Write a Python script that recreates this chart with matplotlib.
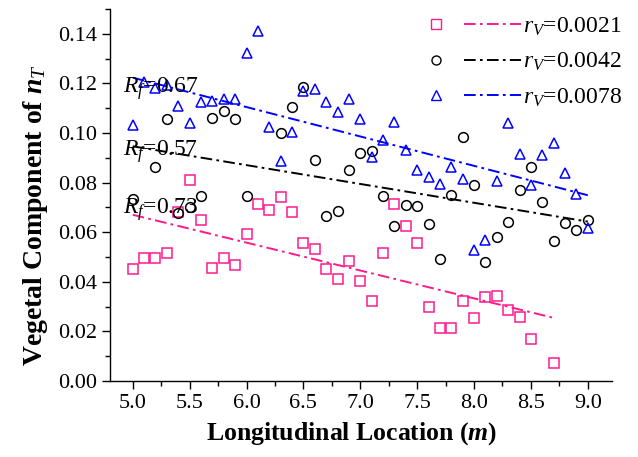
import numpy as np
import matplotlib
matplotlib.use("Agg")
import matplotlib.pyplot as plt
from matplotlib.lines import Line2D
from matplotlib.legend_handler import HandlerBase
from matplotlib.ticker import MultipleLocator, FormatStrFormatter

plt.rcParams["font.family"] = ["Liberation Serif", "DejaVu Serif"]
plt.rcParams["mathtext.fontset"] = "custom"
plt.rcParams["mathtext.rm"] = "Liberation Serif"
plt.rcParams["mathtext.it"] = "Liberation Serif:italic"
plt.rcParams["mathtext.bf"] = "Liberation Serif:bold"
plt.rcParams["mathtext.bfit"] = "Liberation Serif:bold:italic"

# ----------------------------------------------------------------------
# data
# ----------------------------------------------------------------------
x_0021 = [5.0, 5.1, 5.2, 5.3, 5.4, 5.5, 5.6, 5.7, 5.8, 5.9,
          6.0, 6.1, 6.2, 6.3, 6.4, 6.5, 6.6, 6.7, 6.8, 6.9,
          7.0, 7.1, 7.2, 7.3, 7.4, 7.5, 7.6, 7.7, 7.8, 7.9,
          8.0, 8.1, 8.2, 8.3, 8.4, 8.5, 8.7]
y_0021 = [0.0452, 0.0496, 0.0496, 0.0516, 0.0683, 0.0811, 0.0649, 0.0457, 0.0497, 0.0468,
          0.0593, 0.0715, 0.0690, 0.0743, 0.0682, 0.0557, 0.0534, 0.0453, 0.0413, 0.0484,
          0.0405, 0.0323, 0.0516, 0.0714, 0.0626, 0.0557, 0.0300, 0.0215, 0.0214, 0.0323,
          0.0254, 0.0339, 0.0343, 0.0286, 0.0258, 0.0169, 0.0074]

x_0042 = [5.0, 5.2, 5.3, 5.4, 5.5, 5.6, 5.7, 5.8, 5.9, 6.0,
          6.3, 6.4, 6.5, 6.6, 6.7, 6.8, 6.9, 7.0, 7.1, 7.2,
          7.3, 7.4, 7.5, 7.6, 7.7, 7.8, 7.9, 8.0, 8.1, 8.2,
          8.3, 8.4, 8.5, 8.6, 8.7, 8.8, 8.9, 9.0]
y_0042 = [0.0735, 0.0862, 0.1057, 0.0677, 0.0703, 0.0747, 0.1062, 0.1088, 0.1057, 0.0744,
          0.1001, 0.1103, 0.1187, 0.0893, 0.0666, 0.0686, 0.0850, 0.0918, 0.0928, 0.0744,
          0.0627, 0.0710, 0.0707, 0.0632, 0.0493, 0.0751, 0.0983, 0.0791, 0.0481, 0.0581,
          0.0640, 0.0770, 0.0863, 0.0722, 0.0565, 0.0637, 0.0610, 0.0649]

x_0078 = [5.0, 5.1, 5.2, 5.3, 5.4, 5.5, 5.6, 5.7, 5.8, 5.9,
          6.0, 6.1, 6.2, 6.3, 6.4, 6.5, 6.6, 6.7, 6.8, 6.9,
          7.0, 7.1, 7.2, 7.3, 7.4, 7.5, 7.6, 7.7, 7.8, 7.9,
          8.0, 8.1, 8.2, 8.3, 8.4, 8.5, 8.6, 8.7, 8.8, 8.9, 9.0]
y_0078 = [0.1031, 0.1207, 0.1183, 0.1194, 0.1109, 0.1039, 0.1127, 0.1131, 0.1139, 0.1136,
          0.1322, 0.1413, 0.1026, 0.0888, 0.1006, 0.1171, 0.1177, 0.1127, 0.1086, 0.1138,
          0.1056, 0.0902, 0.0970, 0.1044, 0.0932, 0.0851, 0.0824, 0.0795, 0.0862, 0.0816,
          0.0530, 0.0569, 0.0805, 0.1042, 0.0914, 0.0791, 0.0910, 0.0959, 0.0837, 0.0753,
          0.0618]

labels = ["0.0021", "0.0042", "0.0078"]
r_f = ["0.73", "0.57", "0.67"]
colors = ["#FF1A8C", "black", "#0000FF"]
markers = ["s", "o", "^"]
r_f_pos = [(4.91, 0.0676), (4.91, 0.0910), (4.91, 0.1164)]

DASH = (6.0, 2.2, 1.4, 2.2)


class MarkerThenLine(HandlerBase):
    """Legend key: open marker on the left, dash-dot line on the right."""

    def create_artists(self, legend, h, xdescent, ydescent, width, height,
                       fontsize, trans):
        y = height / 2 - ydescent
        x0 = -xdescent
        mk = Line2D([x0 + 0.0 * width], [y], ls="none", marker=h.get_marker(),
                    ms=6.5, mfc="none", mec=h.get_color(), mew=1.0)
        ln = Line2D([x0 + 0.33 * width, x0 + width], [y, y],
                    color=h.get_color(), lw=1.4)
        ln.set_dashes(DASH)
        mk.set_transform(trans)
        ln.set_transform(trans)
        return [mk, ln]


fig = plt.figure(figsize=(6.38, 4.57), dpi=100)
ax = fig.add_axes([0.1724, 0.1663, 0.7864, 0.814])

series = [(x_0021, y_0021), (x_0042, y_0042), (x_0078, y_0078)]
handles = []
for (xs, ys), lab, c, m, rf, pos in zip(series, labels, colors, markers, r_f, r_f_pos):
    xs = np.asarray(xs)
    ys = np.asarray(ys)
    ax.plot(xs, ys, ls="none", marker=m, ms=7.0, mfc="none", mec=c, mew=1.1,
            zorder=3)
    k, b = np.polyfit(xs, ys, 1)
    xx = np.array([xs.min(), xs.max()])
    ln, = ax.plot(xx, k * xx + b, color=c, lw=1.4, zorder=2)
    ln.set_dashes(DASH)
    handles.append(Line2D([], [], color=c, marker=m))
    ax.text(pos[0], pos[1], rf"$R_f$={rf}", fontsize=17, color="black",
            ha="left", va="baseline", zorder=4)

leg = ax.legend(handles, [rf"$r_V$={s}" for s in labels],
                handler_map={Line2D: MarkerThenLine()},
                loc="upper right", bbox_to_anchor=(1.05, 1.02), frameon=False,
                fontsize=17, handlelength=3.6, handletextpad=0.1,
                labelspacing=0.55, borderaxespad=0.2)

ax.set_xlim(4.8, 9.21)
ax.set_ylim(0.0, 0.15)
ax.xaxis.set_minor_locator(MultipleLocator(0.25))
ax.yaxis.set_minor_locator(MultipleLocator(0.01))
ax.xaxis.set_major_formatter(FormatStrFormatter("%.1f"))
ax.yaxis.set_major_formatter(FormatStrFormatter("%.2f"))
ax.set_xticks(np.arange(5.0, 9.01, 0.5))
ax.set_yticks(np.arange(0.0, 0.141, 0.02))

for s in ("top", "right"):
    ax.spines[s].set_visible(False)
for s in ("left", "bottom"):
    ax.spines[s].set_linewidth(1.0)
ax.tick_params(which="major", direction="out", length=6, width=1.0,
               labelsize=16, pad=3)
ax.tick_params(which="minor", direction="out", length=3.5, width=1.0)

ax.set_xlabel(r"Longitudinal Location ($\mathbfit{m}$)", fontsize=18.5,
              fontweight="bold")
ax.set_ylabel(r"Vegetal Component of $\mathbfit{n}_{\mathit{T}}$", fontsize=20,
              fontweight="bold")
ax.xaxis.set_label_coords(0.482, -0.105)
ax.yaxis.set_label_coords(-0.12, 0.446)

fig.savefig("out.png", dpi=100)
